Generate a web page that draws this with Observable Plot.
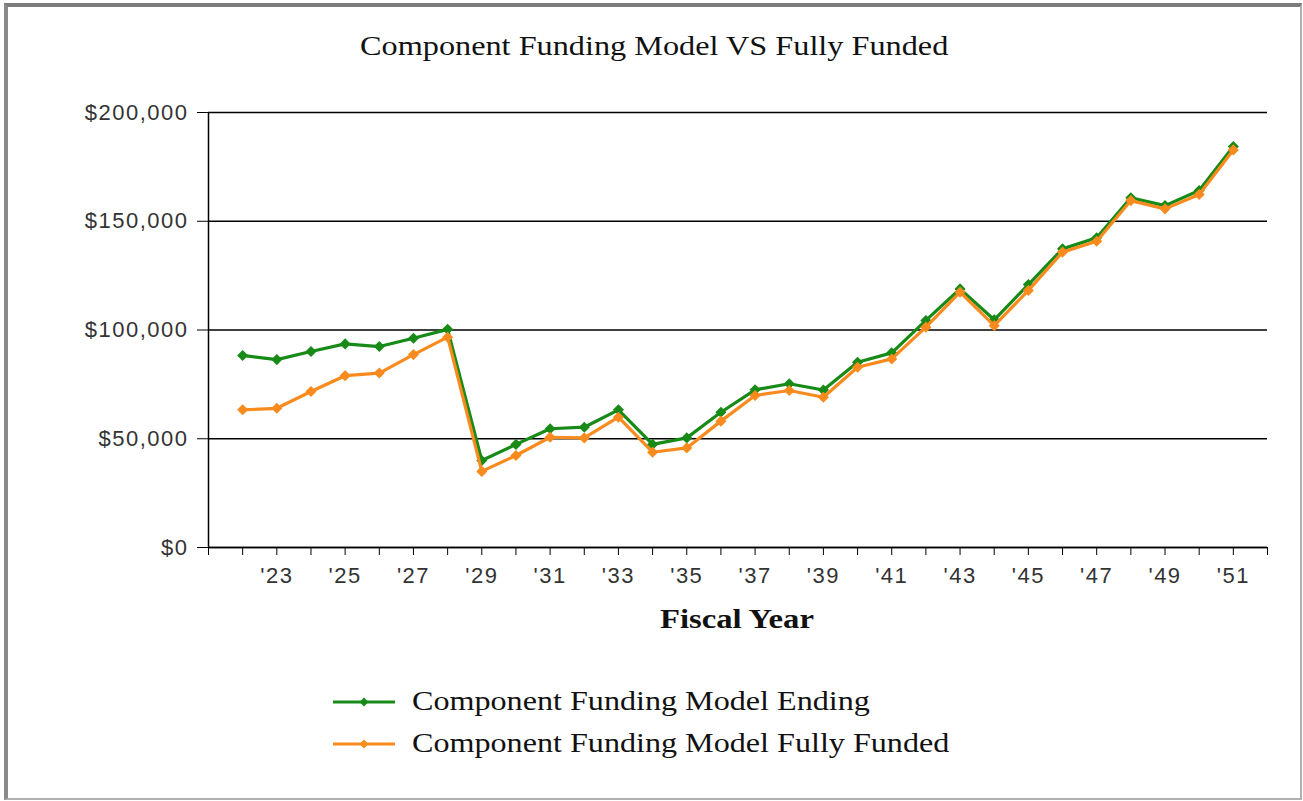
<!DOCTYPE html>
<html><head><meta charset="utf-8">
<script src="https://cdn.jsdelivr.net/npm/d3@7"></script>
<script src="https://cdn.jsdelivr.net/npm/@observablehq/plot@0.6"></script>
<style>
html,body{margin:0;padding:0;background:#fff;}
#frame{position:absolute;left:0;top:0;width:1303px;height:801px;overflow:hidden;background:#fff;}
#border{position:absolute;left:4px;top:3px;width:1298px;height:797px;box-sizing:border-box;border-top:4px solid #7c7c7c;border-left:4px solid #8a8a8a;border-right:2px solid #b0b0b0;border-bottom:2px solid #b0b0b0;pointer-events:none;}
#chart{position:absolute;left:0;top:0;}
#chart svg text{letter-spacing:1.5px;}
.serif{font-family:"Liberation Serif","Times New Roman",serif;color:#111;white-space:nowrap;position:absolute;display:inline-block;transform-origin:left top;line-height:1;}
#title{left:360px;top:33px;font-size:27px;transform:scaleX(1.195);}
#xlabel{left:660px;top:606px;font-size:27px;font-weight:bold;transform:scaleX(1.21);}
.legrow{position:absolute;left:333px;height:30px;}
.legrow svg{position:absolute;left:0;top:6px;}
.legrow .serif{left:79px;top:0;font-size:27px;transform:scaleX(1.19);}
</style>
</head><body>
<div id="frame">
  <div id="chart"></div>
  <span id="title" class="serif">Component Funding Model VS Fully Funded</span>
  <span id="xlabel" class="serif">Fiscal Year</span>
  <div id="legend"></div>
  <div id="border"></div>
</div>
<script>
const years = [2022,2023,2024,2025,2026,2027,2028,2029,2030,2031,2032,2033,2034,2035,2036,2037,2038,2039,2040,2041,2042,2043,2044,2045,2046,2047,2048,2049,2050,2051];
const ending = [88300,86400,90100,93600,92400,96200,100300,40000,47400,54600,55300,63300,47400,50400,62200,72500,75300,72400,85200,89500,104400,118900,104700,120900,137300,142400,160800,157200,164100,184400];
const fullyFunded = [63300,64000,71700,79000,80200,88700,96700,35000,42300,50700,50400,59900,43800,45800,58100,69900,72200,69100,82900,86700,101300,117400,102000,118200,135800,140800,159500,155700,162300,182800];
const seriesNames = ["Component Funding Model Ending","Component Funding Model Fully Funded"];
const seriesColors = ["#178a17","#f98b1e"];
const yTicks = [0,50000,100000,150000,200000];
const xLabelYears = [2023,2025,2027,2029,2031,2033,2035,2037,2039,2041,2043,2045,2047,2049,2051];
const xDomain = [2021,2052];
const xTickYears = d3.range(xDomain[0], xDomain[1] + 1);

const rows = [ending, fullyFunded].map((vals, s) =>
  years.map((yr, i) => ({year: yr, value: vals[i], series: seriesNames[s]})));

const seriesMarks = rows.flatMap(r => [
  Plot.line(r, {x: "year", y: "value", stroke: "series", strokeWidth: 3.2}),
  Plot.dot(r, {x: "year", y: "value", fill: "series", symbol: "diamond2", r: 5, stroke: "none"})
]);

const chart = Plot.plot({
  width: 1303, height: 660,
  marginLeft: 208, marginRight: 36, marginTop: 112, marginBottom: 113,
  style: {background: "transparent", fontFamily: "'Liberation Sans', Arial, sans-serif", fontSize: "22px", color: "#333", overflow: "visible"},
  x: {domain: xDomain, axis: null},
  y: {domain: [0, 200000], axis: null},
  color: {domain: seriesNames, range: seriesColors},
  marks: [
    Plot.gridY(yTicks, {stroke: "#000", strokeOpacity: 1, strokeWidth: 1.5}),
    Plot.axisY(yTicks, {tickSize: 11, tickPadding: 9, stroke: "#000", fill: "#333", fontSize: 22, label: null,
      tickFormat: d => "$" + d3.format(",")(d)}),
    Plot.axisX(xTickYears, {tickSize: 8, tickPadding: 12, stroke: "#000", fill: "#333", fontSize: 22, label: null,
      tickFormat: d => xLabelYears.includes(d) ? "'" + String(d).slice(2) : ""}),
    Plot.ruleX([xDomain[0]], {y1: 0, y2: 200000, stroke: "#000", strokeWidth: 1.5}),
    Plot.ruleY([0], {stroke: "#000", strokeWidth: 1.5}),
    ...seriesMarks
  ]
});
document.getElementById("chart").appendChild(chart);

const legend = document.getElementById("legend");
seriesNames.forEach((name, i) => {
  const row = document.createElement("div");
  row.className = "legrow";
  row.style.top = (688 + i * 42) + "px";
  row.innerHTML = `<svg width="64" height="16"><line x1="0" y1="8" x2="62" y2="8" stroke="${seriesColors[i]}" stroke-width="3"/><path d="M31,3.5L35.5,8L31,12.5L26.5,8Z" fill="${seriesColors[i]}"/></svg><span class="serif">${name}</span>`;
  legend.appendChild(row);
});
</script>
</body></html>
